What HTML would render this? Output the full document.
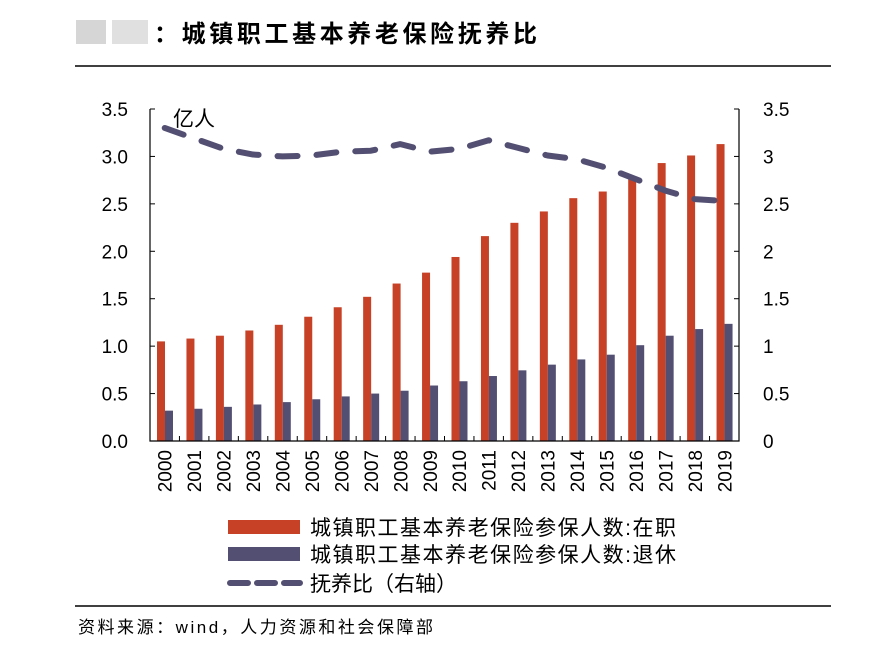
<!DOCTYPE html>
<html><head><meta charset="utf-8"><style>
body{margin:0;background:#fff;width:882px;height:650px;overflow:hidden;font-family:"Liberation Sans","Noto Sans CJK SC",sans-serif;}
</style></head><body>
<svg width="882" height="650" style="position:absolute;left:0;top:0">
<rect x="76" y="20" width="30" height="24" fill="#bbb" opacity="0.6"/>
<rect x="112" y="20" width="36" height="24" fill="#ccc" opacity="0.6"/>
<text x="154" y="42" font-size="24" font-weight="bold" textLength="383">：城镇职工基本养老保险抚养比</text>
<line x1="75" y1="66" x2="831" y2="66" stroke="#000" stroke-width="1.5"/>
<line x1="75" y1="606" x2="831" y2="606" stroke="#000" stroke-width="1.5"/>
<text x="78" y="633" font-size="17" textLength="355">资料来源：wind，人力资源和社会保障部</text>
<g id="plot"></g>
<g>
<rect x="228" y="520" width="72" height="14" fill="#C64126"/>
<text x="310" y="535" font-size="21" textLength="366">城镇职工基本养老保险参保人数:在职</text>
<rect x="228" y="547" width="72" height="14" fill="#534F72"/>
<text x="310" y="562" font-size="21" textLength="366">城镇职工基本养老保险参保人数:退休</text>
<line x1="230" y1="583" x2="300" y2="583" stroke="#534F72" stroke-width="6" stroke-dasharray="18,9" stroke-linecap="round"/>
<text x="310" y="591" font-size="21">抚养比（右轴）</text>
</g>
</svg>
<script>
const years=["2000","2001","2002","2003","2004","2005","2006","2007","2008","2009","2010","2011","2012","2013","2014","2015","2016","2017","2018","2019"];
const employed=[1.05,1.08,1.11,1.165,1.225,1.31,1.41,1.52,1.66,1.775,1.94,2.16,2.30,2.42,2.56,2.63,2.79,2.93,3.01,3.13];
const retired=[0.32,0.34,0.36,0.385,0.41,0.44,0.47,0.50,0.53,0.585,0.63,0.685,0.745,0.805,0.86,0.91,1.01,1.11,1.18,1.235];
const ratio=[3.30,3.19,3.08,3.02,3.00,3.01,3.05,3.06,3.13,3.05,3.08,3.17,3.09,3.01,2.97,2.88,2.76,2.64,2.55,2.53];
const leftTicks=["0.0","0.5","1.0","1.5","2.0","2.5","3.0","3.5"];
const rightTicks=["0","0.5","1","1.5","2","2.5","3","3.5"];
const NS="http://www.w3.org/2000/svg";
const L=150,R=739,T=109,B=441,maxV=3.5;
const slot=(R-L)/years.length;
const y=v=>B-(v/maxV)*(B-T);
const x=i=>L+slot*i;
const g=document.getElementById('plot');
function mk(t,a){const e=document.createElementNS(NS,t);for(const k in a)e.setAttribute(k,a[k]);g.appendChild(e);return e;}
years.forEach((yr,i)=>{
 const r=mk('rect',{x:x(i)+7,y:y(employed[i]),width:8,height:B-y(employed[i]),fill:'#C64126'});
 
 
 const b=mk('rect',{x:x(i)+15,y:y(retired[i]),width:8,height:B-y(retired[i]),fill:'#534F72'});
 
 
 const t=mk('text',{transform:`translate(${x(i)+slot/2+7},${450}) rotate(-90)`,'text-anchor':'end','font-size':19});
 t.textContent=yr;
 
 
 const tk=mk('line',{x1:x(i),y1:B,x2:x(i),y2:B-5,stroke:'#000'});
 
 
});
const pts=ratio.map((v,i)=>`${x(i)+slot/2},${y(v)}`).join(' ');
const pl=mk('polyline',{points:pts,fill:'none',stroke:'#534F72','stroke-width':6,'stroke-dasharray':'20,19','stroke-linecap':'round','stroke-linejoin':'round'});


leftTicks.forEach((s,i)=>{
 const v=i*0.5;
 const t=mk('text',{x:L-22,y:y(v)+7,'text-anchor':'end','font-size':19});t.textContent=s;
 
 
 mk('line',{x1:L,y1:y(v),x2:L+5,y2:y(v),stroke:'#000'});
 const t2=mk('text',{x:R+24,y:y(v)+7,'font-size':19});t2.textContent=rightTicks[i];
 
 
 mk('line',{x1:R,y1:y(v),x2:R-5,y2:y(v),stroke:'#000'});
});
const ax=mk('path',{d:`M${L},${T} V${B} H${R} V${T}`,fill:'none',stroke:'#000','stroke-width':1.2});


const u=mk('text',{x:173,y:126,'font-size':21});u.textContent='亿人';


</script>
</body></html>
